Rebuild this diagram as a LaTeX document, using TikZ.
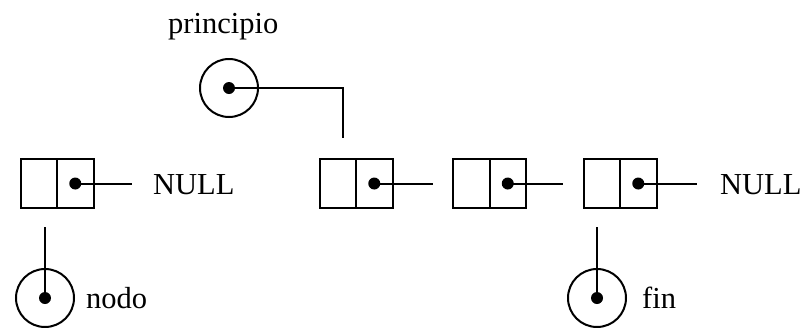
\documentclass[tikz,border=0pt]{standalone}
\usepackage{fontspec}
\setmainfont{Liberation Serif}
\begin{document}
\begin{tikzpicture}[x=1pt,y=-1pt,
  cell/.style={draw,line width=2pt,minimum width=36.5pt,minimum height=49pt,inner sep=0pt},
  ptr/.style={circle,fill=black,inner sep=0pt,minimum size=12pt},
  var/.style={circle,draw,line width=2pt,inner sep=0pt,minimum size=58pt},
  lbl/.style={inner sep=0pt,anchor=base west,font=\fontsize{30.5}{36}\selectfont},
  link/.style={line width=2pt}]
\useasboundingbox (0,0) rectangle (809,327);
% list boxes
\node[cell] (b1l) at (38.75,183.5) {};
\node[cell] (b1r) at (75.25,183.5) {};
\node[cell] (b2l) at (337.75,183.5) {};
\node[cell] (b2r) at (374.25,183.5) {};
\node[cell] (b3l) at (471.25,183.5) {};
\node[cell] (b3r) at (507.75,183.5) {};
\node[cell] (b4l) at (601.75,183.5) {};
\node[cell] (b4r) at (638.25,183.5) {};
% pointer dots
\node[ptr] (d1) at (b1r.center) {};
\node[ptr] (d2) at (b2r.center) {};
\node[ptr] (d3) at (b3r.center) {};
\node[ptr] (d4) at (b4r.center) {};
\coordinate (e1) at (132,183.5);
\coordinate (e2) at (433,183.5);
\coordinate (e3) at (563,183.5);
\coordinate (e4) at (697,183.5);
\draw[link] (d1.center) -- (e1);
\draw[link] (d2.center) -- (e2);
\draw[link] (d3.center) -- (e3);
\draw[link] (d4.center) -- (e4);
\node[lbl] (null1) at (153,194) {NULL};
\node[lbl] (null2) at (720,194) {NULL};
% principio
\node[var] (vp) at (229,88) {};
\node[ptr] (dp) at (vp.center) {};
\coordinate (cp1) at (343,88);
\coordinate (cp2) at (343,138);
\draw[link] (dp.center) -- (cp1) -- (cp2);
\node[lbl] (tp) at (168,33) {principio};
% nodo
\node[var] (vn) at (45,298) {};
\node[ptr] (dn) at (vn.center) {};
\coordinate (cn) at (45,227);
\draw[link] (dn.center) -- (cn);
\node[lbl] (tn) at (86,308) {nodo};
% fin
\node[var] (vf) at (597,298) {};
\node[ptr] (df) at (vf.center) {};
\coordinate (cf) at (597,227);
\draw[link] (df.center) -- (cf);
\node[lbl] (tf) at (642,308) {fin};
\end{tikzpicture}
\end{document}
